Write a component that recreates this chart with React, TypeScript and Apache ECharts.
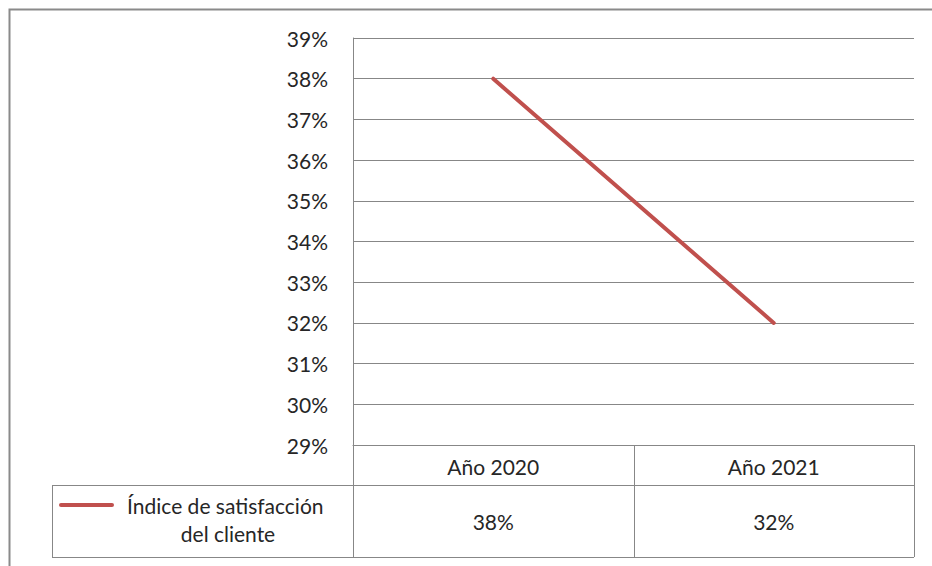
import React, { useEffect, useRef } from "react";
import * as echarts from "echarts";

// Chart data
const categories = ["Año 2020", "Año 2021"];
const seriesName = "Índice de satisfacción del cliente";
const satisfaction = [38, 32];
const yMin = 29;
const yMax = 39;
const yStep = 1;

const W = 932;
const H = 566;
const FONT = "Lato, 'Open Sans', sans-serif";
const FONT_SIZE = 21;
const TEXT = "#262626";
const GRID_LINE = "#878787";
const LINE_COLOR = "#C0504D";

// Plot area and data-table geometry
const PLOT = { left: 353, top: 38, right: 914, bottom: 445 };
const HEADER_BOTTOM = 485;
const TABLE_BOTTOM = 557;
const LEGEND_LEFT = 52;

export default function App() {
  const ref = useRef<HTMLDivElement>(null);

  useEffect(() => {
    if (!ref.current) return;
    const chart = echarts.init(ref.current, undefined, { renderer: "svg", width: W, height: H });

    chart.setOption({
      animation: false,
      backgroundColor: "#ffffff",
      textStyle: { fontFamily: FONT },
      grid: {
        left: PLOT.left,
        top: PLOT.top,
        width: PLOT.right - PLOT.left,
        height: PLOT.bottom - PLOT.top,
        containLabel: false,
      },
      xAxis: {
        type: "category",
        data: categories,
        boundaryGap: true,
        axisLine: { show: true, lineStyle: { color: GRID_LINE, width: 1 } },
        axisTick: { show: false },
        axisLabel: { show: false },
        splitLine: { show: false },
      },
      yAxis: {
        type: "value",
        min: yMin,
        max: yMax,
        interval: yStep,
        axisLine: { show: true, lineStyle: { color: GRID_LINE, width: 1 } },
        axisTick: { show: false },
        axisLabel: {
          formatter: "{value}%",
          color: TEXT,
          fontSize: FONT_SIZE,
          fontFamily: FONT,
          margin: 25,
        },
        splitLine: { show: true, lineStyle: { color: GRID_LINE, width: 1 } },
      },
      series: [
        {
          name: seriesName,
          type: "line",
          data: satisfaction,
          symbol: "none",
          lineStyle: { color: LINE_COLOR, width: 4, cap: "round" },
        },
      ],
    });

    // Data table under the plot, aligned to the category axis
    const n = categories.length;
    const colW = (PLOT.right - PLOT.left) / n;
    const stroke = { stroke: GRID_LINE, lineWidth: 1, fill: "none" };
    const elements: any[] = [];

    // Outer chart-area frame
    elements.push({
      type: "rect",
      shape: { x: 9.5, y: 9.5, width: 1000, height: 1000 },
      style: { stroke: "#8a8a8a", lineWidth: 2, fill: "none" },
      silent: true,
    });

    // Horizontal table rules
    elements.push({ type: "line", shape: { x1: PLOT.left, y1: PLOT.bottom + 0.5, x2: PLOT.right, y2: PLOT.bottom + 0.5 }, style: stroke });
    elements.push({ type: "line", shape: { x1: LEGEND_LEFT, y1: HEADER_BOTTOM + 0.5, x2: PLOT.right, y2: HEADER_BOTTOM + 0.5 }, style: stroke });
    elements.push({ type: "line", shape: { x1: LEGEND_LEFT, y1: TABLE_BOTTOM + 0.5, x2: PLOT.right, y2: TABLE_BOTTOM + 0.5 }, style: stroke });
    // Vertical table rules
    elements.push({ type: "line", shape: { x1: LEGEND_LEFT + 0.5, y1: HEADER_BOTTOM, x2: LEGEND_LEFT + 0.5, y2: TABLE_BOTTOM }, style: stroke });
    for (let i = 0; i <= n; i++) {
      const x = Math.round(PLOT.left + i * colW) + 0.5;
      elements.push({ type: "line", shape: { x1: x, y1: PLOT.bottom, x2: x, y2: TABLE_BOTTOM }, style: stroke });
    }

    // Header and value cells
    categories.forEach((cat, i) => {
      const cx = chart.convertToPixel({ xAxisIndex: 0 }, cat) as number;
      elements.push({
        type: "text",
        x: cx,
        y: (PLOT.bottom + HEADER_BOTTOM) / 2 + 1,
        style: { text: cat, fill: TEXT, font: `${FONT_SIZE}px ${FONT}`, align: "center", verticalAlign: "middle" },
      });
      elements.push({
        type: "text",
        x: cx,
        y: (HEADER_BOTTOM + TABLE_BOTTOM) / 2,
        style: { text: `${satisfaction[i]}%`, fill: TEXT, font: `${FONT_SIZE}px ${FONT}`, align: "center", verticalAlign: "middle" },
      });
    });

    // Legend key cell
    elements.push({
      type: "line",
      shape: { x1: 61, y1: 505, x2: 112, y2: 505 },
      style: { stroke: LINE_COLOR, lineWidth: 4, lineCap: "round" },
    });
    elements.push({
      type: "text",
      x: 228,
      y: 519,
      style: {
        text: seriesName,
        width: 228,
        overflow: "break",
        lineHeight: 28,
        fill: TEXT,
        font: `${FONT_SIZE}px ${FONT}`,
        align: "center",
        verticalAlign: "middle",
      },
    });

    chart.setOption({ graphic: { elements } });

    return () => chart.dispose();
  }, []);

  return (
    <div
      ref={ref}
      style={{ position: "fixed", left: 0, top: 0, width: W, height: H, background: "#fff" }}
    />
  );
}
